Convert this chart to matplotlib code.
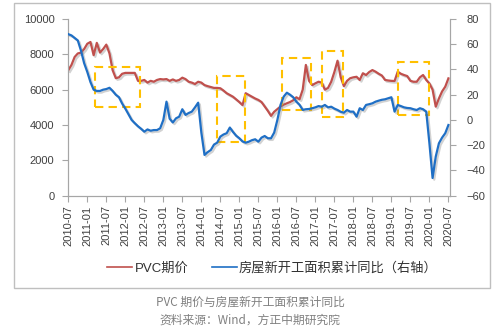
import matplotlib
matplotlib.use("Agg")
import matplotlib.pyplot as plt
import matplotlib.patheffects as pe
from matplotlib.patches import Rectangle
import numpy as np

plt.rcParams['font.family'] = ['Liberation Sans', 'Noto Sans CJK SC', 'DejaVu Sans']

# 月度数据 2010-07 ~ 2020-07
pvc_price = [7100, 7400, 7850, 8050, 8100, 8300, 8600, 8700, 7950, 8650,
             8100, 8300, 8550, 8050, 7100, 6650, 6700, 6900, 6950, 6950,
             6950, 6950, 6500, 6500, 6550, 6400, 6500, 6450, 6550, 6600,
             6580, 6600, 6500, 6580, 6500, 6550, 6680, 6600, 6450, 6400,
             6320, 6450, 6400, 6260, 6200, 6150, 6100, 6100, 6080, 5950,
             5800, 5700, 5600, 5450, 5300, 5130, 5800, 5700, 5600, 5500,
             5420, 5300, 5050, 4800, 4520, 4750, 4900, 5050, 5150, 5230,
             5300, 5400, 5570, 5460, 6000, 7400, 6500, 6260, 6360, 6450,
             6400, 6000, 6100, 6450, 7000, 7640, 6700, 6200, 6500, 6650,
             6700, 6730, 6550, 6930, 6830, 7000, 7110, 7020, 6900, 6800,
             6550, 6520, 6500, 6490, 7020, 6900, 6830, 6770, 6500, 6450,
             6450, 6700, 6830, 6550, 6350, 6000, 5040, 5500, 5900, 6170,
             6640]

new_start_yoy = [68, 67, 65, 63, 55, 45, 38, 30, 24, 23,
                 23, 24, 24.5, 25.5, 23, 20, 18, 13, 9, 4.5,
                 0, -2.6, -5, -7, -9.3, -7.5, -8.5, -8, -8, -6.6,
                 0, 14.5, 1, -2, 1.3, 2.6, 8.5, 4, 5.5, 6.6,
                 10, 13.7, -10, -27.7, -25.5, -23.8, -19.5, -18, -13.2, -11.5,
                 -10.5, -6, -9.5, -12.5, -14.5, -17, -18, -17.2, -16, -15.3,
                 -17.2, -14, -12.7, -14.5, -14.5, -10, 0, 12, 18.5, 21.6,
                 20, 18, 14.5, 12, 8, 8.5, 8.7, 9.3, 10, 11,
                 10.5, 11.9, 10, 10.5, 9, 7.9, 6.5, 5.8, 7.9, 6.6,
                 6.6, 2.6, 9.3, 7.9, 11.9, 12.5, 13.2, 14.5, 15.3, 16,
                 16.4, 17.2, 18, 6.6, 11.9, 11, 10, 9.5, 9.3, 8.5,
                 7.9, 9.3, 8.5, 6.6, -18.5, -46, -29, -18.5, -14, -10.5,
                 -4]

tick_labels = ['2010-07', '2011-01', '2011-07', '2012-01', '2012-07', '2013-01',
               '2013-07', '2014-01', '2014-07', '2015-01', '2015-07', '2016-01',
               '2016-07', '2017-01', '2017-07', '2018-01', '2018-07', '2019-01',
               '2019-07', '2020-01', '2020-07']

# 标注框 (起始月序号, 结束月序号, 下沿, 上沿) 左轴单位
boxes = [(8.4, 22.6, 5000, 7300),
         (46.9, 55.8, 3060, 6770),
         (67.4, 76.7, 4850, 7810),
         (80.0, 86.8, 4470, 8210),
         (104.2, 114.0, 4570, 7580)]

red = '#C0504D'
blue = '#1F6FC5'
gray = '#A6A6A6'
txt = '#404040'

fig = plt.figure(figsize=(5, 3.29), dpi=100)
ax = fig.add_axes([0.1366, 0.4052, 0.9 - 0.1366, 0.537])
ax2 = ax.twinx()

x = np.arange(len(pvc_price))
shadow = [pe.SimpleLineShadow(offset=(1.2, -1.2), shadow_color='gray', alpha=0.35), pe.Normal()]
ax.plot(x, pvc_price, color=red, lw=1.6, path_effects=shadow, zorder=3)
ax2.plot(np.arange(len(new_start_yoy)), new_start_yoy, color=blue, lw=1.6,
         path_effects=shadow, zorder=3)

for x0, x1, y0, y1 in boxes:
    r = Rectangle((x0, y0), x1 - x0, y1 - y0, fill=False, edgecolor='#FFC000',
                  lw=1.5, linestyle=(0, (4, 2.5)), zorder=5)
    ax.add_patch(r)

ax.set_xlim(0, 120.5)
ax.set_ylim(0, 10000)
ax2.set_ylim(-60, 80)
ax.set_yticks(range(0, 10001, 2000))
ax2.set_yticks(range(-60, 81, 20))
ax.set_xticks(range(0, 121, 6))
ax.set_xticklabels(tick_labels, rotation=90)

for a in (ax, ax2):
    a.spines['top'].set_visible(False)
    for s in ('left', 'right', 'bottom'):
        a.spines[s].set_color(gray)
        a.spines[s].set_linewidth(0.8)
    a.tick_params(colors=gray, labelcolor=txt, labelsize=8, length=4, width=0.8)
ax.tick_params(axis='y', pad=6)
ax2.tick_params(axis='y', pad=8)
ax.tick_params(axis='x', pad=3)

handles = [plt.Line2D([], [], color=red, lw=1.2), plt.Line2D([], [], color=blue, lw=1.2)]
fig.legend(handles, ['PVC期价', '房屋新开工面积累计同比（右轴）'], loc='center',
           bbox_to_anchor=(0.545, 0.185), ncol=2, frameon=False, fontsize=9.5,
           handlelength=1.9, handletextpad=0.15, columnspacing=1.8,
           labelcolor='#333333')

fig.add_artist(Rectangle((14 / 500, 1 - 288 / 329), 476 / 500, 285 / 329,
                         transform=fig.transFigure, fill=False, edgecolor='#BFBFBF', lw=1))

fig.text(0.5, 1 - 302 / 329, 'PVC 期价与房屋新开工面积累计同比', ha='center', va='center',
         fontsize=8.5, color='#808080', family=['Noto Sans CJK SC', 'DejaVu Sans'])
fig.text(0.5, 1 - 320 / 329, '资料来源：Wind，方正中期研究院', ha='center', va='center',
         fontsize=8.5, color='#808080', family=['Noto Sans CJK SC', 'DejaVu Sans'])

fig.savefig('out.png', dpi=100, facecolor='white')
